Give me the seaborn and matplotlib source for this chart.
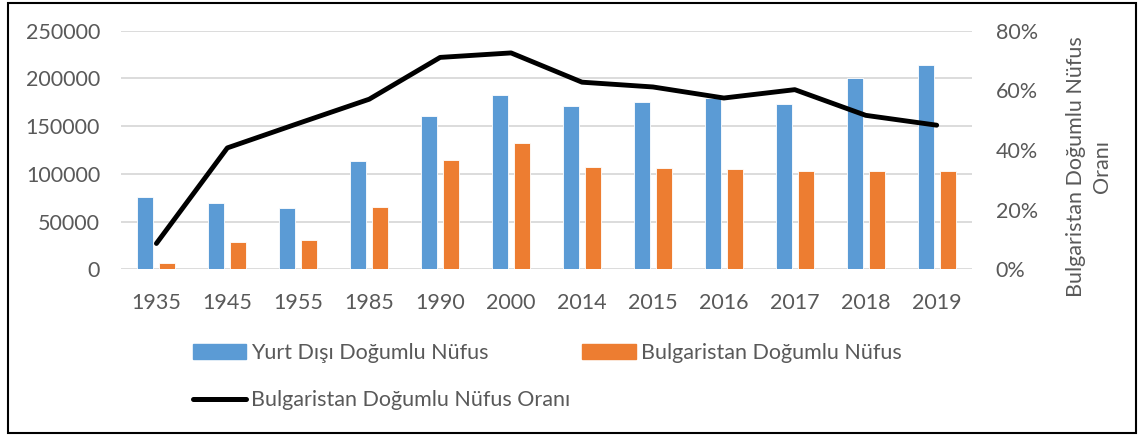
import numpy as np
import pandas as pd
import matplotlib
matplotlib.use("Agg")
import matplotlib.pyplot as plt
import matplotlib.ticker as mticker
from matplotlib.patches import Patch, Rectangle
from matplotlib.lines import Line2D
import seaborn as sns

years = ["1935", "1945", "1955", "1985", "1990", "2000",
         "2014", "2015", "2016", "2017", "2018", "2019"]
yurt_disi = [76000, 70000, 64000, 113000, 161000, 183000,
             171000, 175000, 179000, 173000, 200000, 214000]
bulgaristan = [6300, 28500, 31000, 65000, 114000, 132500,
               107000, 106300, 105000, 103500, 102700, 103200]
oran = [8.7, 40.7, 48.9, 57.0, 71.0, 72.5, 62.7, 61.1, 57.4, 60.2, 51.6, 48.3]

lbl_yurt = "Yurt Dışı Doğumlu Nüfus"
lbl_bulg = "Bulgaristan Doğumlu Nüfus"
lbl_oran = "Bulgaristan Doğumlu Nüfus Oranı"

blue = "#5B9BD5"
orange = "#ED7D31"
txt = "#595959"

df = pd.DataFrame({
    "Yil": years * 2,
    "Nufus": yurt_disi + bulgaristan,
    "Seri": [lbl_yurt] * len(years) + [lbl_bulg] * len(years),
})

sns.set_style("white")
plt.rcParams["font.family"] = ["Lato", "DejaVu Sans"]

fig = plt.figure(figsize=(11.41, 4.36), dpi=100)
ax = fig.add_axes([0.106, 0.382, 0.746, 0.548])

sns.barplot(data=df, x="Yil", y="Nufus", hue="Seri", palette=[blue, orange],
            width=0.62, gap=0.27, saturation=1, edgecolor="white",
            linewidth=0.6, legend=False, ax=ax)
ax.set_ylim(0, 250000)
ax.set_yticks(range(0, 250001, 50000))
ax.yaxis.grid(True, color="#D9D9D9", lw=1.3)
ax.set_axisbelow(True)
ax.set_xlabel("")
ax.set_ylabel("")
ax.tick_params(axis="both", length=0, labelsize=15.5, labelcolor=txt)
ax.tick_params(axis="x", pad=17)
ax.tick_params(axis="y", pad=15)
for s in ax.spines.values():
    s.set_visible(False)

# oran cizgisi sag eksende
ax2 = ax.twinx()
sns.lineplot(x=np.arange(len(years)), y=oran, ax=ax2, color="black",
             lw=3.5, solid_capstyle="round")
ax2.set_ylim(0, 80)
ax2.set_yticks(range(0, 81, 20))
ax2.yaxis.set_major_formatter(mticker.FuncFormatter(lambda v, p: f"{v:.0f}%"))
ax2.tick_params(axis="y", length=0, labelsize=15.5, labelcolor=txt, pad=17)
for s in ax2.spines.values():
    s.set_visible(False)
ax2.set_ylabel("Bulgaristan Doğumlu Nüfus\nOranı", fontsize=15.5, color=txt,
               linespacing=1.4)
ax2.yaxis.set_label_coords(1.11, 0.43)
ax.set_xlim(-0.5, len(years) - 0.5)

handles = [Patch(color=blue),
           Line2D([], [], color="black", lw=3.6, solid_capstyle="round"),
           Patch(color=orange)]
labels = [lbl_yurt, lbl_oran, lbl_bulg]
fig.legend(handles, labels, loc="upper left", bbox_to_anchor=(0.169, 0.213),
           ncol=2, frameon=False, fontsize=15.5, labelcolor=txt,
           handlelength=2.47, handletextpad=0.25, columnspacing=0.55,
           labelspacing=1.25, borderpad=0, borderaxespad=0)

fig.add_artist(Rectangle((8 / 1141, 3 / 436), 1128 / 1141, 430 / 436,
                         transform=fig.transFigure, fill=False,
                         ec="black", lw=1.5))

fig.savefig("out.png", dpi=100)
